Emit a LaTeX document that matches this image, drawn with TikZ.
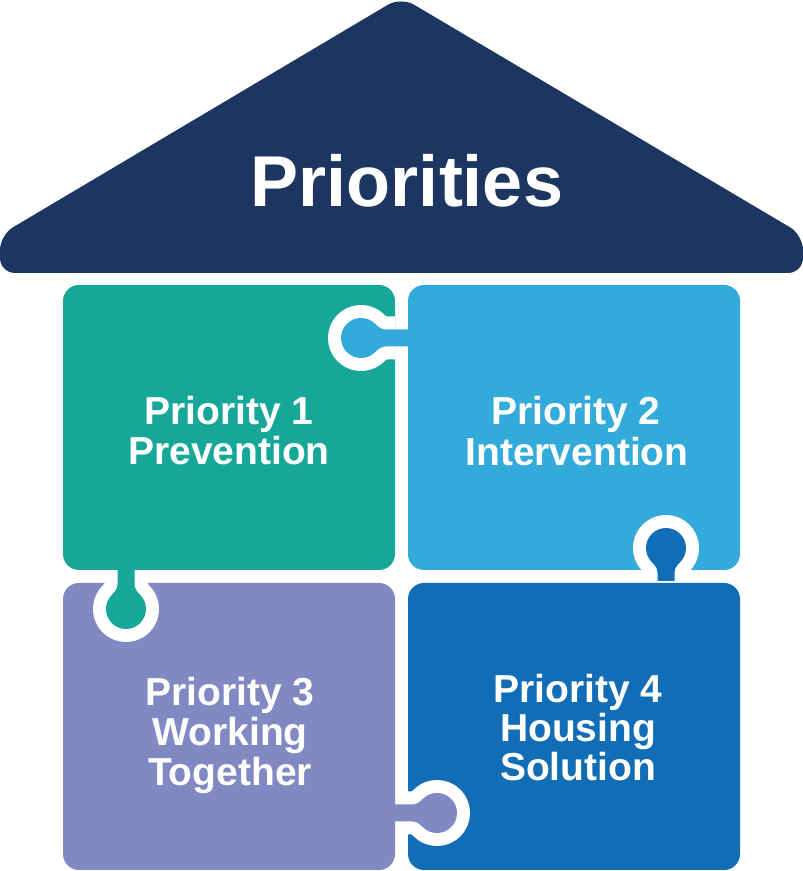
\documentclass[tikz,border=0pt]{standalone}
\usepackage{fontspec}
\setmainfont{Liberation Sans}
\definecolor{roofc}{HTML}{1D3661}
\definecolor{tealc}{HTML}{17A799}
\definecolor{lbluec}{HTML}{33ABDA}
\definecolor{lavc}{HTML}{8089C2}
\definecolor{dbluec}{HTML}{116DB5}
% knob outline in local coordinates: base at origin, circle centre at (0,#1)
\newcommand\knobshape[1]{(-8.5,0) -- (-8.5,{#1-25})
  .. controls (-8.5,{#1-20.5}) and (-10.6,{#1-17.7}) .. (-14.14,{#1-14.14})
  arc[start angle=225,end angle=-45,radius=20]
  .. controls (10.6,{#1-17.7}) and (8.5,{#1-20.5}) .. (8.5,{#1-25}) -- (8.5,0) -- cycle}
% #1 x, #2 y, #3 rotation, #4 distance to circle centre, #5 colour, #6 host rectangle
\newcommand\drawknob[6]{%
  \begin{scope}
    \clip #6;
    \begin{scope}[shift={(#1,#2)},rotate=#3]
      \draw[white,line width=26,line join=round] \knobshape{#4};
    \end{scope}
  \end{scope}
  \begin{scope}[shift={(#1,#2)},rotate=#3]
    \fill[#5] \knobshape{#4};
  \end{scope}}
\begin{document}
\begin{tikzpicture}[x=1pt,y=1pt,
  lbl/.style={text=white,font=\bfseries\fontsize{39}{40}\selectfont,inner sep=0,anchor=base},
  piece/.style={rounded corners=16}]
\useasboundingbox (0,0) rectangle (803,871);
% roof
\fill[roofc,rounded corners=15] (0,598) -- (0,636) -- (401,874) -- (803,636) -- (803,598) -- cycle;
\node[text=white,font=\bfseries\fontsize{72}{80}\selectfont,inner sep=0,anchor=base] (title) at (407,664) {Priorities};
% pieces
\fill[tealc,piece] (63,301) rectangle (395,586);
\fill[lbluec,piece] (408,301) rectangle (740,586);
\fill[lavc,piece] (63,1) rectangle (395,288);
\fill[dbluec,piece] (408,1) rectangle (740,288);
% knobs
\drawknob{410}{533}{90}{49}{lbluec}{(63,301) rectangle (395,586)}
\drawknob{666}{290}{0}{33}{dbluec}{(408,301) rectangle (740,586)}
\drawknob{126}{303}{180}{41}{tealc}{(63,1) rectangle (395,288)}
\drawknob{393}{58}{-90}{44}{lavc}{(408,1) rectangle (740,288)}
% labels
\node[lbl] (p1a) at (229,446) {Priority 1};
\node[lbl] (p1b) at (229,406) {Prevention};
\node[lbl] (p2a) at (576,446) {Priority 2};
\node[lbl] (p2b) at (577,405) {Intervention};
\node[lbl] (p3a) at (230,165) {Priority 3};
\node[lbl] (p3b) at (230,125) {Working};
\node[lbl] (p3c) at (230,85) {Together};
\node[lbl] (p4a) at (578,168) {Priority 4};
\node[lbl] (p4b) at (578,129) {Housing};
\node[lbl] (p4c) at (578,90) {Solution};
\end{tikzpicture}
\end{document}
